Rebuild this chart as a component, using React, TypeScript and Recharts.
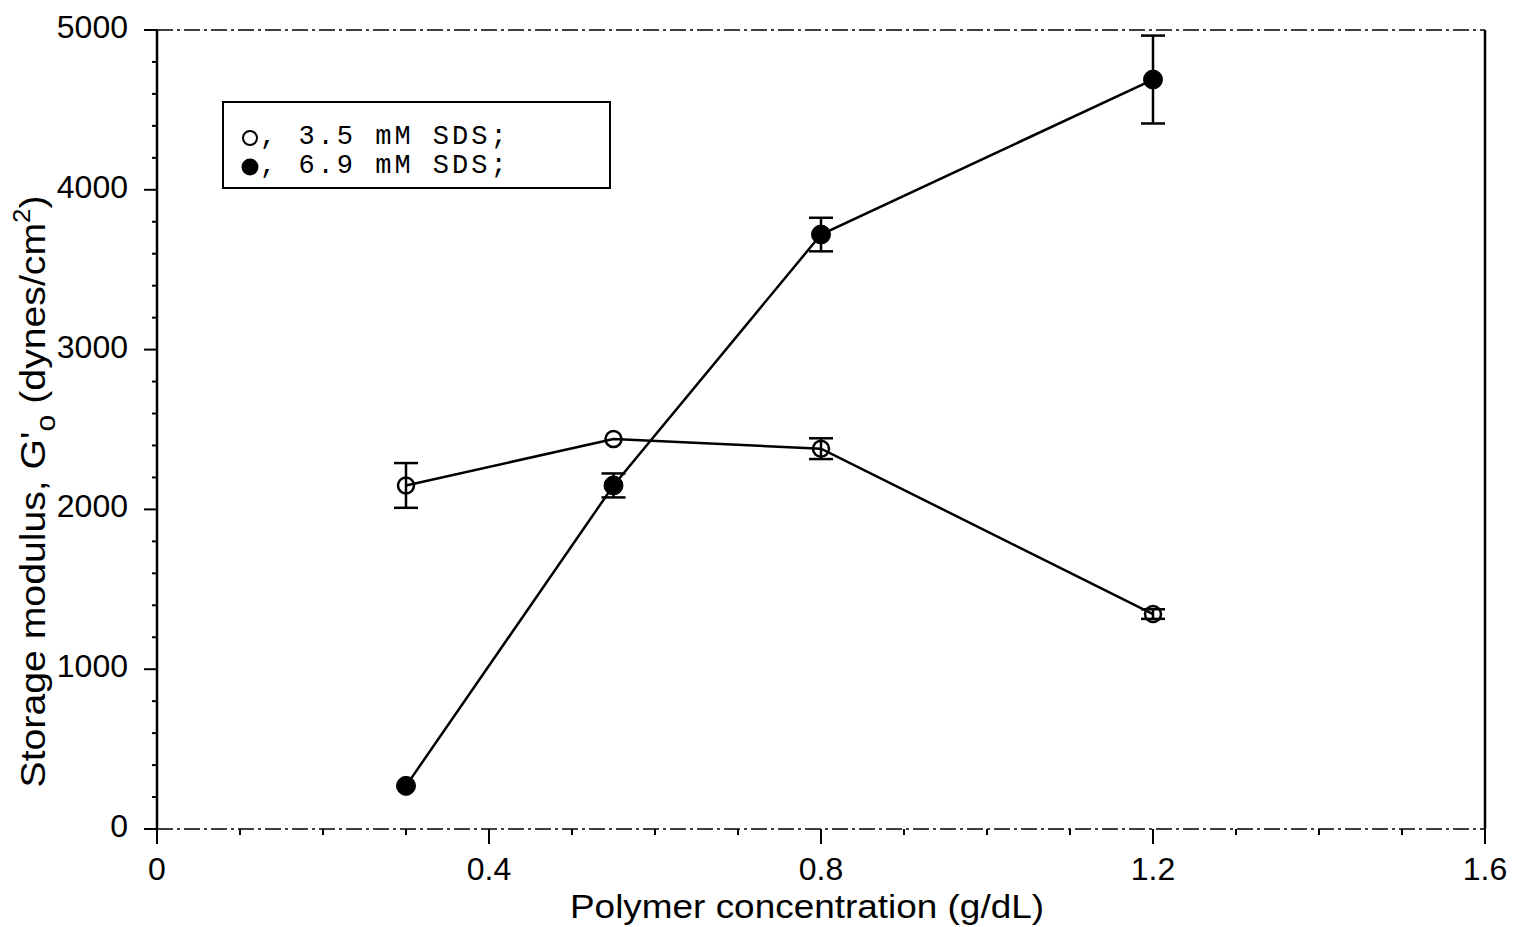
import React from "react";
import {
  LineChart,
  Line,
  XAxis,
  YAxis,
  ErrorBar,
  ReferenceLine,
  Legend,
} from "recharts";

// polymer concentration (g/dL) vs storage modulus G'o (dynes/cm^2)
const sds35 = [
  { conc: 0.3, g: 2150, err: 140 },
  { conc: 0.55, g: 2440, err: 0 },
  { conc: 0.8, g: 2380, err: 65 },
  { conc: 1.2, g: 1345, err: 30 },
];

const sds69 = [
  { conc: 0.3, g: 270, err: 0 },
  { conc: 0.55, g: 2150, err: 75 },
  { conc: 0.8, g: 3720, err: 105 },
  { conc: 1.2, g: 4690, err: 275 },
];

const xTicks = [0, 0.1, 0.2, 0.3, 0.4, 0.5, 0.6, 0.7, 0.8, 0.9, 1.0, 1.1, 1.2, 1.3, 1.4, 1.5, 1.6];
const xMajor = ["0", "0.4", "0.8", "1.2", "1.6"];
const yTicks = [
  0, 200, 400, 600, 800, 1000, 1200, 1400, 1600, 1800, 2000, 2200, 2400, 2600, 2800, 3000,
  3200, 3400, 3600, 3800, 4000, 4200, 4400, 4600, 4800, 5000,
];

const FONT = "'Liberation Sans', Arial, Helvetica, sans-serif";
const MONO = "'Liberation Mono', 'Courier New', monospace";

const XTick = (props: any) => {
  const { x, y, payload } = props;
  const label = String(Math.round(payload.value * 10) / 10);
  const major = xMajor.includes(label);
  return (
    <g>
      <line x1={x} x2={x} y1={y} y2={y + (major ? 15 : 6)} stroke="#000" strokeWidth={2} />
      {major && (
        <text x={x} y={y + 51} textAnchor="middle" fontFamily={FONT} fontSize={32} fill="#000">
          {label}
        </text>
      )}
    </g>
  );
};

const YTick = (props: any) => {
  const { x, y, payload } = props;
  const major = payload.value % 1000 === 0;
  return (
    <g>
      <line x1={x} x2={x - (major ? 13 : 5)} y1={y} y2={y} stroke="#000" strokeWidth={2} />
      {major && (
        <text x={x - 29} y={y + 8} textAnchor="end" fontFamily={FONT} fontSize={32} fill="#000">
          {payload.value}
        </text>
      )}
    </g>
  );
};

const OpenDot = (props: any) => {
  const { cx, cy } = props;
  return <circle cx={cx} cy={cy} r={8} fill="none" stroke="#000" strokeWidth={2.5} />;
};

const FilledDot = (props: any) => {
  const { cx, cy } = props;
  return <circle cx={cx} cy={cy} r={9.5} fill="#000" stroke="#000" strokeWidth={1} />;
};

const YTitle = (props: any) => {
  const vb = props.viewBox;
  const cx = vb.x + 45;
  const cy = vb.y + vb.height / 2 + 62;
  return (
    <text
      x={cx}
      y={cy}
      transform={`rotate(-90, ${cx}, ${cy})`}
      textAnchor="middle"
      fontFamily={FONT}
      fontSize={35}
      textLength={592}
      lengthAdjust="spacingAndGlyphs"
      fill="#000"
    >
      Storage modulus, G'
      <tspan fontSize={27} dy={10}>o</tspan>
      <tspan dy={-10}> (dynes/cm</tspan>
      <tspan fontSize={23} dy={-15}>2</tspan>
      <tspan dy={15}>)</tspan>
    </text>
  );
};

const XTitle = (props: any) => {
  const vb = props.viewBox;
  return (
    <text
      x={vb.x + vb.width / 2 - 14}
      y={vb.y + 89}
      textAnchor="middle"
      fontFamily={FONT}
      fontSize={34}
      textLength={474}
      lengthAdjust="spacingAndGlyphs"
      fill="#000"
    >
      Polymer concentration (g/dL)
    </text>
  );
};

const LegendBox = () => (
  <div
    style={{
      border: "2.5px solid #000",
      width: 389,
      height: 88,
      boxSizing: "border-box",
      padding: "20px 0 0 16px",
      fontFamily: MONO,
      fontSize: 27,
      letterSpacing: 3,
      lineHeight: "29px",
      color: "#000",
      background: "#fff",
    }}
  >
    <div style={{ display: "flex", alignItems: "center", whiteSpace: "pre" }}>
      <svg width={20} height={20}>
        <circle cx={10} cy={10} r={7} fill="none" stroke="#000" strokeWidth={2} />
      </svg>
      <span>, 3.5 mM SDS;</span>
    </div>
    <div style={{ display: "flex", alignItems: "center", whiteSpace: "pre" }}>
      <svg width={20} height={20}>
        <circle cx={10} cy={10} r={8.5} fill="#000" />
      </svg>
      <span>, 6.9 mM SDS;</span>
    </div>
  </div>
);

export default function App() {
  return (
    <div style={{ position: "absolute", left: 0, top: 0, background: "#fff" }}>
      <LineChart width={1521} height={927} margin={{ top: 30, right: 36, bottom: 0, left: 0 }}>
        <XAxis
          dataKey="conc"
          type="number"
          domain={[0, 1.6]}
          ticks={xTicks}
          interval={0}
          allowDataOverflow
          height={98}
          tickSize={0}
          tickMargin={0}
          tickLine={false}
          tick={<XTick />}
          axisLine={{ stroke: "#000", strokeWidth: 1.5, strokeDasharray: "16 4 3 4" }}
          label={{ content: <XTitle /> }}
        />
        <YAxis
          type="number"
          domain={[0, 5000]}
          ticks={yTicks}
          interval={0}
          allowDataOverflow
          width={157}
          tickSize={0}
          tickMargin={0}
          tickLine={false}
          tick={<YTick />}
          axisLine={{ stroke: "#000", strokeWidth: 2.5 }}
          label={{ content: <YTitle /> }}
        />
        <ReferenceLine y={5000} stroke="#000" strokeWidth={1.5} strokeDasharray="16 4 3 4" />
        <ReferenceLine x={1.6} stroke="#000" strokeWidth={2.5} />
        <Legend
          layout="vertical"
          align="center"
          verticalAlign="middle"
          wrapperStyle={{ left: 222, top: 101, width: 389, height: 88 }}
          content={<LegendBox />}
        />
        <Line
          data={sds35}
          dataKey="g"
          stroke="#000"
          strokeWidth={2.5}
          dot={<OpenDot />}
          activeDot={false}
          isAnimationActive={false}
        >
          <ErrorBar dataKey="err" direction="y" width={12} stroke="#000" strokeWidth={2.5} />
        </Line>
        <Line
          data={sds69}
          dataKey="g"
          stroke="#000"
          strokeWidth={2.5}
          dot={<FilledDot />}
          activeDot={false}
          isAnimationActive={false}
        >
          <ErrorBar dataKey="err" direction="y" width={12} stroke="#000" strokeWidth={2.5} />
        </Line>
      </LineChart>
    </div>
  );
}
